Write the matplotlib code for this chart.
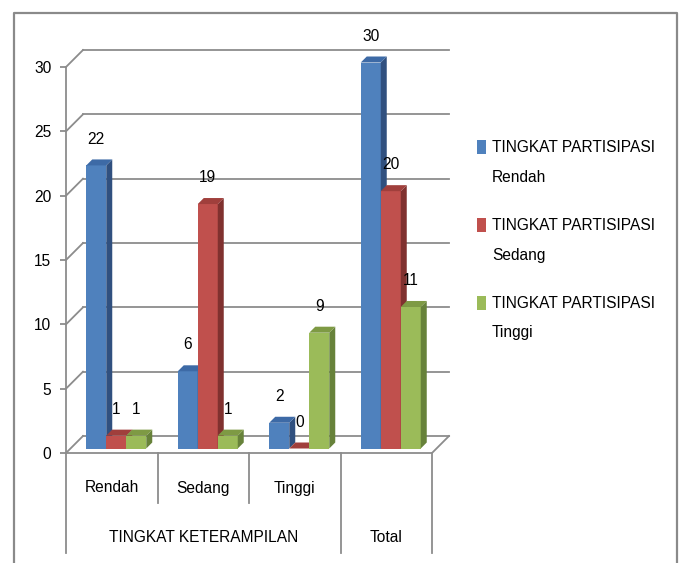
import matplotlib
matplotlib.use("Agg")
import matplotlib.pyplot as plt
from matplotlib import font_manager
from matplotlib.patches import Polygon, Rectangle
from matplotlib.lines import Line2D

categories = ["Rendah", "Sedang", "Tinggi", ""]
group_labels = ["TINGKAT KETERAMPILAN", "Total"]
group_spans = [(0, 3), (3, 4)]
series_names = ["TINGKAT PARTISIPASI\nRendah", "TINGKAT PARTISIPASI\nSedang", "TINGKAT PARTISIPASI\nTinggi"]
partisipasi_rendah = [22, 6, 2, 30]
partisipasi_sedang = [1, 19, 0, 20]
partisipasi_tinggi = [1, 1, 9, 11]
series = [partisipasi_rendah, partisipasi_sedang, partisipasi_tinggi]

front = ["#4F81BD", "#C0504D", "#9BBB59"]
side = ["#30507F", "#80312F", "#67823A"]
top = ["#3D6AA6", "#A03F3C", "#7E9A44"]
GRID = "#8C8C8C"

names = {f.name for f in font_manager.fontManager.ttflist}
if "Liberation Sans Narrow" in names:
    FONT, FS = "Liberation Sans Narrow", 13.5
else:
    FONT, FS = "Liberation Sans", 11.2
plt.rcParams["font.family"] = [FONT, "DejaVu Sans"]

W, H = 680, 563
fig = plt.figure(figsize=(W / 100, H / 100), dpi=100)
ax = fig.add_axes([66 / W, (H - 453) / H, 366 / W, 386 / H])
ax.set_xlim(0, 4)
ax.set_ylim(0, 30)

PX = 4 / 366   # data units per pixel, x
PY = 30 / 386  # data units per pixel, y
BX, BY = 17 * PX, 17 * PY   # back wall offset
SX, SY = 4.5 * PX, 4.5 * PY  # bar plane offset
DX, DY = 6 * PX, 6 * PY      # bar depth
bw = 20 * PX

# back wall gridlines + left wall diagonals
for v in range(0, 31, 5):
    ax.plot([BX, 4 + BX], [v + BY, v + BY], color=GRID, lw=1.3, zorder=1, clip_on=False)
    ax.plot([0, BX], [v, v + BY], color=GRID, lw=1.3, zorder=1, clip_on=False)

# floor outline
ax.plot([0, 4, 4 + BX], [0, 0, BY], color=GRID, lw=1.3, zorder=1, clip_on=False)

# category table lines below the floor
ax.plot([0, 0], [0, -100 * PY], color=GRID, lw=1.3, clip_on=False)
for x in [1, 2]:
    ax.plot([x, x], [0, -50 * PY], color=GRID, lw=1.3, clip_on=False)
for x in [3, 4]:
    ax.plot([x, x], [0, -100 * PY], color=GRID, lw=1.3, clip_on=False)

for i, c in enumerate(categories):
    ax.text(i + 0.5, -35 * PY, c, ha="center", va="center", fontsize=FS, clip_on=False)
for (a, b), g in zip(group_spans, group_labels):
    ax.text((a + b) / 2, -84 * PY, g, ha="center", va="center", fontsize=FS, clip_on=False)

# bars with fake 3d faces
for j, vals in enumerate(series):
    xs = [i + 0.5 + SX + (j - 1) * bw for i in range(len(vals))]
    ax.bar(xs, vals, width=bw, bottom=SY, color=front[j], zorder=3 + j, clip_on=False)
    for x, v in zip(xs, vals):
        xl, xr, y1 = x - bw / 2, x + bw / 2, SY + v
        ax.add_patch(Polygon([(xr, SY), (xr, y1), (xr + DX, y1 + DY), (xr + DX, SY + DY)],
                             closed=True, facecolor=side[j], lw=0, zorder=3 + j, clip_on=False))
        ax.add_patch(Polygon([(xl, y1), (xr, y1), (xr + DX, y1 + DY), (xl + DX, y1 + DY)],
                             closed=True, facecolor=top[j], lw=0, zorder=3 + j, clip_on=False))
        ax.annotate(str(v), (x, y1), xytext=(0, 19), textcoords="offset points",
                    ha="center", va="center", fontsize=FS, zorder=10, annotation_clip=False)

for s in ["top", "right", "bottom"]:
    ax.spines[s].set_visible(False)
ax.spines["left"].set_color(GRID)
ax.spines["left"].set_linewidth(1.3)
ax.set_xticks([])
ax.set_yticks(range(0, 31, 5))
ax.tick_params(axis="y", direction="out", length=4.5, width=1.3, color=GRID, pad=6, labelsize=FS)
ax.patch.set_visible(False)

# legend drawn by hand so the key sits on the first line
leg_y = [147, 225, 303]
for j, name in enumerate(series_names):
    y = leg_y[j]
    fig.add_artist(Rectangle((477 / W, (H - y - 7) / H), 9 / W, 14 / H, transform=fig.transFigure,
                             facecolor=front[j], lw=0))
    first, second = name.split("\n")
    fig.text(492 / W, (H - y) / H, first, ha="left", va="center", fontsize=FS)
    fig.text(492 / W, (H - y - 30) / H, second, ha="left", va="center", fontsize=FS)

# outer chart border
BC = "#8A8A8A"
fig.add_artist(Line2D([14 / W, 14 / W, 677 / W, 677 / W], [0, (H - 13) / H, (H - 13) / H, 0],
                      transform=fig.transFigure, color=BC, lw=1.6))

fig.savefig("out.png", dpi=100)
